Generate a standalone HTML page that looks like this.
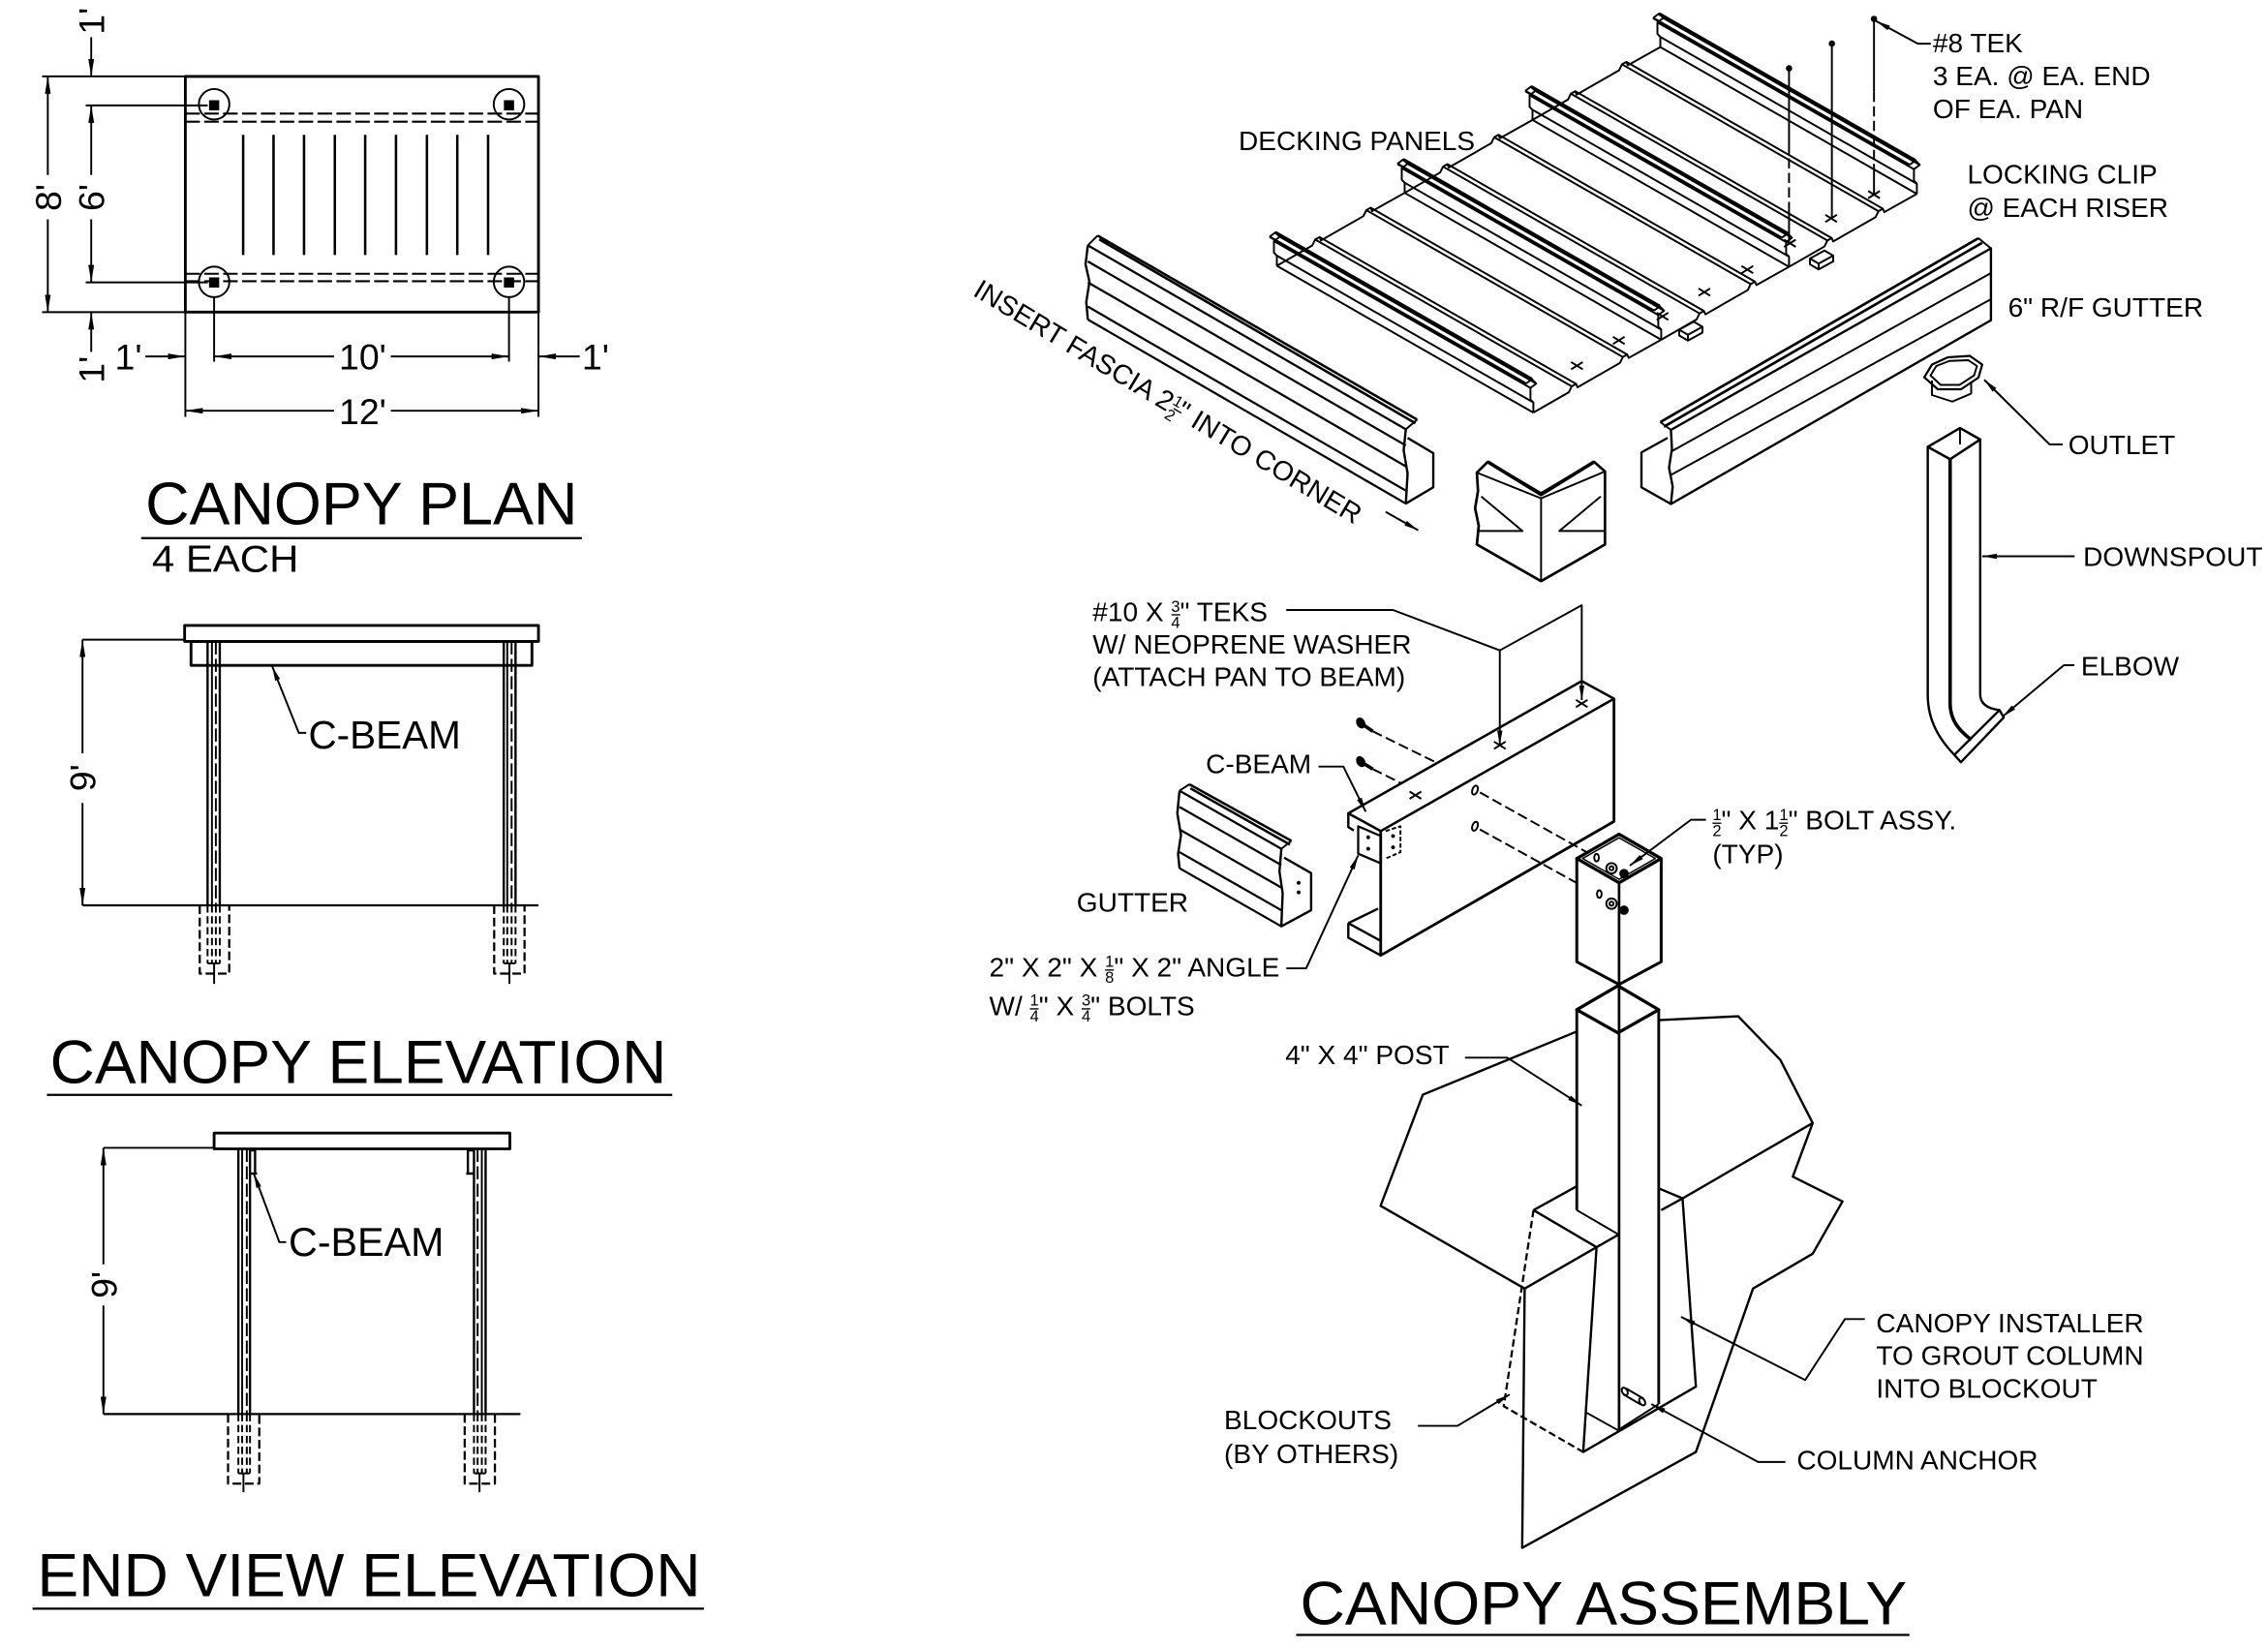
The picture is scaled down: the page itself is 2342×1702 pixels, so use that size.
<!DOCTYPE html>
<html><head><meta charset="utf-8"><style>
html,body{margin:0;padding:0;background:#fff;}
svg{display:block;}
text{font-family:"Liberation Sans",Arial,sans-serif;fill:#000;stroke:none;}
</style></head><body>
<svg width="2342" height="1702" viewBox="0 0 1561.333 1134.667" xmlns="http://www.w3.org/2000/svg">
<defs>
<marker id="d" viewBox="0 0 12 4" refX="12" refY="2" markerWidth="12" markerHeight="4" markerUnits="userSpaceOnUse" orient="auto-start-reverse"><path d="M0,0L12,2L0,4z" fill="#000"/></marker>
<marker id="l" viewBox="0 0 10 3.6" refX="10" refY="1.8" markerWidth="10" markerHeight="3.6" markerUnits="userSpaceOnUse" orient="auto-start-reverse"><path d="M0,0L10,1.8L0,3.6z" fill="#000"/></marker>
<g id="riser">
 <polyline points="-1,3 3,0 6,3 2,6 2,14 4,16 4,23"/>
 <polyline points="175.6,104.1 179.6,101.1 182.6,104.1 178.6,107.1 178.6,115.1 180.6,117.1 180.6,124.1"/>
 <line x1="3" y1="0" x2="179.6" y2="101.1" stroke-width="2.2"/>
 <line x1="-1" y1="3" x2="175.6" y2="104.1" stroke-width="1.6"/>
 <line x1="6" y1="3" x2="182.6" y2="104.1"/>
 <line x1="2" y1="6" x2="178.6" y2="107.1"/>
 <line x1="4" y1="16" x2="180.6" y2="117.1"/>
 <line x1="4" y1="23" x2="180.6" y2="124.1"/>
</g>
<g id="pan">
 <polyline points="4,23 28.4,9 30.4,4.9 33.4,3.2 34.4,5.55 63.6,-11.2 65.6,-15.3 68.6,-17 69.6,-14.65 92,-27.2"/>
 <polyline points="180.6,124.1 205,110.1 207,106 210,104.3 211,106.65 240.2,89.9 242.2,85.8 245.2,84.1 246.2,86.45 268.6,73.9"/>
 <line x1="30.4" y1="4.9" x2="207" y2="106"/>
 <line x1="33.4" y1="3.2" x2="210" y2="104.3"/>
 <line x1="65.6" y1="-15.3" x2="242.2" y2="85.8"/>
 <line x1="68.6" y1="-17" x2="245.2" y2="84.1"/>
</g>
</defs>

<g fill="none" stroke="#000" stroke-width="1.3" stroke-linejoin="round">

<!-- ============ CANOPY PLAN ============ -->
<rect x="127.6" y="52.6" width="243.1" height="162.3" stroke-width="1.9"/>
<circle cx="147.4" cy="71.8" r="10.5"/>
<circle cx="350.4" cy="71.8" r="10.5"/>
<circle cx="147.4" cy="194.1" r="10.5"/>
<circle cx="350.4" cy="194.1" r="10.5"/>
<g fill="#000" stroke="none">
<rect x="143.9" y="69" width="7" height="7"/><rect x="346.9" y="69" width="7" height="7"/>
<rect x="143.9" y="191" width="7" height="7"/><rect x="346.9" y="191" width="7" height="7"/>
</g>
<path d="M127.6 78.2H370.7M127.6 83.8H370.7M127.6 188.5H370.7M127.6 193.6H370.7" stroke-dasharray="10 3" stroke-width="1.4"/>
<path d="M167.4 92.8V175.6M188.3 92.8V175.6M209.3 92.8V175.6M230.5 92.8V175.6M251.4 92.8V175.6M272.6 92.8V175.6M293.9 92.8V175.6M314.8 92.8V175.6M336 92.8V175.6" stroke-width="1.7"/>
<!-- vertical dims -->
<path d="M29 52.6H127.6M29 214.9H127.6M59 72.6H143M59 194.4H143"/>
<path d="M32.9 52.6V120.5" marker-start="url(#d)"/>
<path d="M32.9 151V214.9" marker-end="url(#d)"/>
<path d="M62.8 72.6V120.5" marker-start="url(#d)"/>
<path d="M62.8 151V194.4" marker-end="url(#d)"/>
<path d="M62.8 25.6V52.6" marker-end="url(#d)"/>
<path d="M62.8 242.3V214.9" marker-end="url(#d)"/>
<!-- horizontal dims -->
<path d="M147.4 205V249M350.4 205V249M127.6 214.9V287M370.7 214.9V287"/>
<path d="M147.4 245.4H230" marker-start="url(#d)"/>
<path d="M269 245.4H350.4" marker-end="url(#d)"/>
<path d="M100.1 245.4H127.6" marker-end="url(#d)"/>
<path d="M399.1 245.4H370.7" marker-end="url(#d)"/>
<path d="M127.6 282.8H230" marker-start="url(#d)"/>
<path d="M269 282.8H370.7" marker-end="url(#d)"/>
<path d="M97.2 370.5H400.6" stroke-width="1.5"/>

<!-- ============ CANOPY ELEVATION ============ -->
<rect x="127.1" y="430.6" width="243.6" height="11" stroke-width="1.9"/>
<rect x="131.5" y="441.6" width="234.7" height="16.5" stroke-width="1.9"/>
<path d="M142.9 441.6V623.3M151.3 441.6V623.3M346.8 441.6V623.3M354.9 441.6V623.3" stroke-width="1.6"/>
<path d="M145.9 441.6V623.3M349.2 441.6V623.3"/>
<path d="M148.6 441.6V623.3M352.2 441.6V623.3" stroke-dasharray="9 3"/>
<path d="M142.9 623.3V663.3M145.9 623.3V663.3M148.6 623.3V663.3M151.3 623.3V663.3M346.8 623.3V663.3M349.2 623.3V663.3M352.2 623.3V663.3M354.9 623.3V663.3" stroke-dasharray="5 2.5"/>
<path d="M142.9 663.3H151.3M346.8 663.3H354.9"/>
<path d="M137.5 623.3V670.3H157.8V623.3M340.2 623.3V670.3H361.1V623.3" stroke-dasharray="6 2.5" stroke-width="1.5"/>
<path d="M147.4 663V677.4M350.7 663V677.4"/>
<path d="M56.8 623.3H370.7" stroke-width="1.5"/>
<path d="M56.8 440.4H127.1"/>
<path d="M56.8 440.4V518.7" marker-start="url(#d)"/>
<path d="M56.8 552.8V623.3" marker-end="url(#d)"/>
<path d="M210.8 504.6H205.7L187.4 458.8" marker-end="url(#l)"/>
<path d="M32.3 753.8H462.8" stroke-width="1.5"/>

<!-- ============ END VIEW ELEVATION ============ -->
<rect x="147.4" y="780.1" width="203.6" height="10.9" stroke-width="1.9"/>
<path d="M164.1 791V973.6M172.1 791V973.6M326.3 791V973.6M334.3 791V973.6" stroke-width="1.6"/>
<path d="M166.7 791V973.6M331.7 791V973.6"/>
<path d="M169.9 791V973.6M328.8 791V973.6" stroke-dasharray="9 3"/>
<path d="M164.1 973.6V1014.4M166.7 973.6V1014.4M169.9 973.6V1014.4M172.1 973.6V1014.4M326.3 973.6V1014.4M328.8 973.6V1014.4M331.7 973.6V1014.4M334.3 973.6V1014.4" stroke-dasharray="5 2.5"/>
<path d="M164.1 1014.4H172.1M326.3 1014.4H334.3"/>
<path d="M157 973.6V1021.5H178.5V973.6M319.9 973.6V1021.5H340.7V973.6" stroke-dasharray="6 2.5" stroke-width="1.5"/>
<path d="M167.6 1014V1027.4M330.1 1014V1027.4"/>
<path d="M172.1 792H176M175.6 791.5V808M172.1 808H177M326.3 792H322.4M322.1 791.5V808M326.3 808H321" stroke-width="1.6"/>
<path d="M71.2 973.6H358.3" stroke-width="1.5"/>
<path d="M71.2 790.3H147.4"/>
<path d="M71.2 790.3V870.5" marker-start="url(#d)"/>
<path d="M71.2 898.8V973.6" marker-end="url(#d)"/>
<path d="M197 855.2H192.3L174.7 808" marker-end="url(#l)"/>
<path d="M22.4 1107.6H484.6" stroke-width="1.5"/>

<!-- ============ DECKING ============ -->
<use href="#riser" x="875" y="160"/>
<use href="#riser" x="963" y="109.8"/>
<use href="#riser" x="1051" y="59.6"/>
<use href="#riser" x="1139" y="9.4"/>
<use href="#pan" x="875" y="160"/>
<use href="#pan" x="963" y="109.8"/>
<use href="#pan" x="1051" y="59.6"/>
<path d="M1081.6 249.3l8 5M1081.6 254.3l8 -5M1110.4 231.9l8 5M1110.4 236.9l8 -5M1140.5 215.3l8 5M1140.5 220.3l8 -5M1169.3 198.6l8 5M1169.3 203.6l8 -5M1198.9 183.1l8 5M1198.9 188.1l8 -5M1228.2 165l8 5M1228.2 170l8 -5M1256.6 147.9l8 5M1256.6 152.9l8 -5M1286.1 131.5l8 5M1286.1 136.5l8 -5"/>
<!-- locking clips -->
<path d="M1156 227l10 -5.5l6 3.5l-10 5.5zM1156 227v4l6 3.5l10 -5.5v-4M1162 230.5v4"/>
<path d="M1246 178l10 -5.5l6 3.5l-10 5.5zM1246 178v4l6 3.5l10 -5.5v-4M1252 181.5v4"/>
<!-- TEK screws -->
<path d="M1231.6 47.9V99M1231.6 143.6V167.5M1261.1 30.8V150M1290.1 13.7V63.2M1290.1 112.8V133.3"/>
<path d="M1231.6 99V143.6M1290.1 63.2V112.8" stroke-dasharray="7 3"/>
<g fill="#000" stroke="none"><circle cx="1231.6" cy="47" r="2.2"/><circle cx="1261.1" cy="30" r="2.2"/><circle cx="1290.1" cy="13" r="2.2"/></g>
<path d="M1329.2 30.1H1320.3L1291.5 14.5" marker-end="url(#l)"/>

<!-- ============ LEFT FASCIA GUTTER ============ -->
<path d="M755.6 162.2L975.6 288.9M756.7 164.8L974.4 291.4" stroke-width="1.7"/>
<path d="M748.9 168.9L755.6 162.2M967.8 295.6L975.6 288.9"/>
<path d="M748.9 168.9L967.8 295.6M748.9 180L967.8 306.7M748.9 194.4L967.8 321.1M748.9 211.1L967.8 337.8M748.9 220L967.8 346.7" stroke-width="1.5"/>
<path d="M748.9 168.9L747.3 182L750 194L747.8 208L748.9 220" stroke-width="1.6"/>
<path d="M967.8 295.6L966.3 310L969 326L967.8 346.7L986.7 335.5L986.7 312L969 301.5" stroke-width="1.6"/>

<!-- ============ CORNER PIECE ============ -->
<path d="M1016.7 325.4L1024.2 318L1060.9 339.7L1097.4 318L1104.9 324.6L1104.9 374.9L1060.9 400.1L1016.7 374.9L1018 362L1015.5 350L1017.5 338Z" stroke-width="1.8"/>
<path d="M1016.7 325.4L1060.9 343.1L1104.9 324.6M1060.9 343.1V400.1"/>
<path d="M1024.2 318L1060.9 340.5L1097.4 318" stroke-width="2.4"/>
<path d="M1019.7 341.8L1048.1 365.6H1016.7M1102 341.8L1073.5 365.6H1104.9"/>
<path d="M953.9 352.4L976.3 365.1" marker-end="url(#l)"/>

<!-- ============ RIGHT GUTTER ============ -->
<path d="M1143 290.6L1362 164M1145.5 293.8L1364.5 167.2" stroke-width="1.8"/>
<path d="M1143 290.6L1150.3 296M1362 164L1370.6 171"/>
<path d="M1150.3 296L1370.6 171L1370.6 220.5L1150.3 347L1151.5 335L1149 322L1151 309Z" stroke-width="1.6"/>
<path d="M1150.3 311L1370.6 188M1150.3 327L1370.6 206"/>
<path d="M1150.3 347L1130 335.5L1130 311.5L1148 301.5" stroke-width="1.6"/>

<!-- outlet -->
<path d="M1324.7 259.8L1330 251L1341 246L1356 245L1364.6 251L1362 260L1350 268L1334 268Z" stroke-width="1.5"/>
<path d="M1329 258.5L1333 252L1342 248.5L1355 248L1361 252L1359 258.5L1349 265L1336 265Z"/>
<path d="M1330 262V272L1344 276.5L1357 271V263"/>
<path d="M1420 306H1411L1366 261.5" marker-end="url(#l)"/>

<!-- downspout -->
<path d="M1327.1 307.7L1349.3 294.7L1363.2 302.6L1342.5 316.2Z" stroke-width="1.7"/>
<path d="M1349.3 294.7V306"/>
<path d="M1327.1 307.7V478.6C1327.1 497 1336 510 1345.4 519.7" stroke-width="1.6"/>
<path d="M1342.5 316.2V484C1342.5 497 1350 504 1357.2 509.4" stroke-width="2.4"/>
<path d="M1363.2 302.6V478C1363.2 485 1369 488 1376.5 488.9" stroke-width="1.6"/>
<path d="M1345.4 519.7L1349.9 524.8L1379.4 494L1376.5 488.9Z" stroke-width="1.6"/>
<path d="M1428.2 383H1364.6" marker-end="url(#l)"/>
<path d="M1428 458H1420.8L1378.5 493.5" marker-end="url(#l)"/>

<!-- ============ SMALL GUTTER ============ -->
<path d="M818.8 540L889 578.9M819.5 542.8L888 581.5" stroke-width="1.7"/>
<path d="M812 544.4L818.8 540M882.1 584.4L889 578.9"/>
<path d="M812 544.4L882.1 584.4M812 555.6L882.1 595.6M812 571.1L882.1 611.1M812 586.7L882.1 626.7M812 597.8L882.1 637.8" stroke-width="1.5"/>
<path d="M812 544.4L810.5 560L813 575L811 588L812 597.8" stroke-width="1.6"/>
<path d="M882.1 584.4L880.8 600L883 615L882.1 637.8L902.6 626.7L902.6 601.1L884 590.5" stroke-width="1.6"/>
<g fill="#000" stroke="none"><circle cx="894" cy="607.8" r="1.3"/><circle cx="894" cy="614.4" r="1.3"/></g>

<!-- ============ C-BEAM ============ -->
<path d="M928.2 560L1088.9 468.9L1111.1 481.1L950.5 572.2Z" stroke-width="1.7"/>
<path d="M950.5 572.2V657.8L1111.1 565.6V481.1" stroke-width="1.9"/>
<path d="M928.2 560V569.5L932 571.8" stroke-width="1.6"/>
<path d="M928.2 635.6L948.7 625.6M928.2 635.6V645.6L950.5 657.8M928.2 635.6L950.5 647.8" stroke-width="1.6"/>
<!-- angle -->
<path d="M935 568.9L950.5 575.6V594.4L935 587.8Z" stroke-width="1.5"/>
<path d="M953.9 572.2L964.1 568.9V586.7L953.9 591.1" stroke-dasharray="3 1.5"/>
<g fill="#000" stroke="none"><circle cx="941.9" cy="576.5" r="1.3"/><circle cx="941.9" cy="584.4" r="1.3"/><circle cx="959" cy="575.6" r="1.3"/><circle cx="959" cy="583.4" r="1.3"/></g>
<path d="M1084.9 481.9l8 5M1084.9 486.9l8 -5M1028.5 510.6l8 5M1028.5 515.6l8 -5M970.4 545l8 5M970.4 550l8 -5"/>
<!-- screws -->
<g fill="#000" stroke="none">
<ellipse cx="936.8" cy="497.8" rx="3" ry="4" transform="rotate(-30 936.8 497.8)"/>
<ellipse cx="936.8" cy="524.4" rx="3" ry="4" transform="rotate(-30 936.8 524.4)"/>
</g>
<path d="M937 498L945 503.5M937 524.6L945 529.5" stroke-width="2.4"/>
<path d="M945 503.5L989.8 525.5M945 529.5L964.1 539" stroke-dasharray="7 3"/>
<ellipse cx="1015.4" cy="544" rx="1.8" ry="3.2" transform="rotate(20 1015.4 544)"/>
<ellipse cx="1015.4" cy="568.9" rx="1.8" ry="3.2" transform="rotate(20 1015.4 568.9)"/>
<path d="M1018.8 545.6L1092.3 586.7M1018.8 571.1L1087.2 608.9" stroke-dasharray="7 3"/>
<path d="M885.5 420H959L1032.5 447.8V513" marker-end="url(#l)"/>
<path d="M1032.5 447.8L1088.9 416.7V482" marker-end="url(#l)"/>
<path d="M907.7 527.8H924.8L940.2 558.9" marker-end="url(#l)"/>
<path d="M885.5 666.7H899.2L935 588.9" marker-end="url(#l)"/>

<!-- ============ BRACKET / POST ============ -->
<path d="M1085.5 591.1L1114.6 574.4L1143.6 591.1L1114.6 607.8Z" stroke-width="2.2"/>
<path d="M1089.5 591.1L1114.6 576.8L1139.6 591.1L1114.6 605.4Z" stroke-width="1"/>
<path d="M1085.5 591.1V662.2L1114.6 677.8L1143.6 662.2V591.1" stroke-width="2"/>
<path d="M1114.6 607.8V984.7" stroke-width="1.8"/>
<ellipse cx="1099.1" cy="590.5" rx="1.6" ry="2.6"/>
<circle cx="1109.4" cy="597.8" r="3.6"/><circle cx="1109.4" cy="597.8" r="1.4"/>
<circle cx="1118" cy="601.5" r="2.6" fill="#000"/>
<ellipse cx="1101" cy="615.6" rx="1.6" ry="2.6"/>
<circle cx="1109.4" cy="622.2" r="3.6"/><circle cx="1109.4" cy="622.2" r="1.4"/>
<circle cx="1118" cy="626.7" r="2.6" fill="#000"/>
<path d="M1174.4 564.4H1164.1L1122 596" marker-end="url(#l)"/>
<path d="M1085.5 695.2L1113.8 678.7L1141.9 695.2L1113.8 711.1Z" stroke-width="2.2"/>
<path d="M1085.5 695.2V833.2M1141.9 695.2V966.7" stroke-width="1.9"/>
<path d="M1085.5 833.2L1113.8 849.7"/>
<path d="M1092.3 972.7L1113.8 984.7L1141.9 966.7"/>
<!-- slab -->
<path d="M1085.5 710.2L979.5 753.7L950.4 830.2L1049.6 887.2L1099.1 858.7L1113.8 850.3" stroke-width="1.6"/>
<path d="M1141.9 702.4L1196.6 699.7L1225.6 729.7L1247.9 773.2L1234.2 810.1L1268.4 827.2L1247.9 863.2L1206.8 887.2L1167.5 999.7L1047.9 1065.7L1049.6 887.2" stroke-width="1.6"/>
<path d="M1143.6 833.2L1158.3 825.1L1247.9 773.2" stroke-width="1.6"/>
<!-- blockout -->
<path d="M1055.7 833.2L1085.5 816.7M1141.9 818.2L1158.3 825.1M1055.7 833.2L1099.1 858.7" stroke-width="1.6"/>
<path d="M1055.7 833.2L1035.2 968.2L1089.9 999.7" stroke-dasharray="5 2.5" stroke-width="1.5"/>
<path d="M1099.1 858.7L1089.9 999.7L1167.5 954.7L1158.3 825.1" stroke-width="1.6"/>
<!-- column anchor -->
<path d="M1119.5 956L1131.5 963M1117.5 960L1129.5 967"/>
<ellipse cx="1118.5" cy="958" rx="1.8" ry="2.8" transform="rotate(-30 1118.5 958)"/>
<ellipse cx="1130.5" cy="965" rx="1.8" ry="2.8" transform="rotate(-30 1130.5 965)"/>
<!-- leaders -->
<path d="M1008.5 728.2H1037.6L1088.9 761.2" marker-end="url(#l)"/>
<path d="M1283.8 908.2H1270.1L1242.7 950.2L1157.3 906.7" marker-end="url(#l)"/>
<path d="M976.1 981.7H1003.4L1039.3 960.1" marker-end="url(#l)"/>
<path d="M1229.1 1006.6H1210.3L1136.8 966.7" marker-end="url(#l)"/>
<path d="M892.3 1125.7H1314.5" stroke-width="1.5"/>

<!-- fraction bars -->
<path d="M806.5 423.3H812.5M760.8 667.9H766.8M709 694.6H715M744.6 694.6H750.6M1178.9 566.8H1184.9M1224.9 566.8H1230.9" stroke-width="0.9"/>
</g>

<!-- ============ TEXT ============ -->
<g font-size="25">
<text transform="translate(41.9 136) rotate(-90)" text-anchor="middle">8'</text>
<text transform="translate(71.8 136) rotate(-90)" text-anchor="middle">6'</text>
<text transform="translate(71.8 14.5) rotate(-90)" text-anchor="middle">1'</text>
<text transform="translate(71.8 254.5) rotate(-90)" text-anchor="middle">1'</text>
<text x="249.6" y="254.5" text-anchor="middle">10'</text>
<text x="79" y="254.5">1'</text>
<text x="400.6" y="254.5">1'</text>
<text x="249.6" y="292" text-anchor="middle">12'</text>
<text transform="translate(65.8 535.5) rotate(-90)" text-anchor="middle">9'</text>
<text transform="translate(80.2 884.6) rotate(-90)" text-anchor="middle">9'</text>
</g>
<text x="100.1" y="361" font-size="41.5" textLength="297.5" lengthAdjust="spacingAndGlyphs">CANOPY PLAN</text>
<text x="104.6" y="393.6" font-size="26" textLength="101" lengthAdjust="spacingAndGlyphs">4 EACH</text>
<text x="212.3" y="515.2" font-size="27">C-BEAM</text>
<text x="34.4" y="745.6" font-size="42" textLength="424.5" lengthAdjust="spacingAndGlyphs">CANOPY ELEVATION</text>
<text x="198.7" y="864.6" font-size="27.5">C-BEAM</text>
<text x="25.6" y="1098.9" font-size="42" textLength="456.8" lengthAdjust="spacingAndGlyphs">END VIEW ELEVATION</text>
<text x="895" y="1118.2" font-size="42" textLength="417.8" lengthAdjust="spacingAndGlyphs">CANOPY ASSEMBLY</text>

<g font-size="18.7">
<text x="852.7" y="103.3">DECKING PANELS</text>
<text x="1330.6" y="35.9">#8 TEK</text>
<text x="1330.6" y="58.8">3 EA. @ EA. END</text>
<text x="1330.6" y="81.4">OF EA. PAN</text>
<text x="1354.3" y="126.5">LOCKING CLIP</text>
<text x="1354.3" y="149.4">@ EACH RISER</text>
<text x="1382.4" y="218.1">6" R/F GUTTER</text>
<text x="1423.8" y="312.8">OUTLET</text>
<text x="1434.1" y="389.7">DOWNSPOUT</text>
<text x="1432.6" y="465">ELBOW</text>
<text x="752.2" y="427.8">#10 X <tspan font-size="11" dy="-6.5">3</tspan><tspan font-size="11" dx="-6.1" dy="11">4</tspan><tspan dy="-4.5">" TEKS</tspan></text>
<text x="752.2" y="450">W/ NEOPRENE WASHER</text>
<text x="752.2" y="472.2">(ATTACH PAN TO BEAM)</text>
<text x="830.1" y="532.2">C-BEAM</text>
<text x="741.2" y="627.8">GUTTER</text>
<text x="681" y="672.2">2" X 2" X <tspan font-size="11" dy="-6.5">1</tspan><tspan font-size="11" dx="-6.1" dy="11">8</tspan><tspan dy="-4.5">" X 2" ANGLE</tspan></text>
<text x="681" y="698.9">W/ <tspan font-size="11" dy="-6.5">1</tspan><tspan font-size="11" dx="-6.1" dy="11">4</tspan><tspan dy="-4.5">" X </tspan><tspan font-size="11" dy="-6.5">3</tspan><tspan font-size="11" dx="-6.1" dy="11">4</tspan><tspan dy="-4.5">" BOLTS</tspan></text>
<text x="1178.9" y="571.1"><tspan font-size="11" dy="-6.5">1</tspan><tspan font-size="11" dx="-6.1" dy="11">2</tspan><tspan dy="-4.5">" X 1</tspan><tspan font-size="11" dy="-6.5">1</tspan><tspan font-size="11" dx="-6.1" dy="11">2</tspan><tspan dy="-4.5">" BOLT ASSY.</tspan></text>
<text x="1178.9" y="594.4">(TYP)</text>
<text x="884.8" y="732.7">4" X 4" POST</text>
<text x="1291.6" y="917.2">CANOPY INSTALLER</text>
<text x="1291.6" y="939.7">TO GROUT COLUMN</text>
<text x="1291.6" y="962.2">INTO BLOCKOUT</text>
<text x="842.7" y="984.1">BLOCKOUTS</text>
<text x="842.7" y="1007.2">(BY OTHERS)</text>
<text x="1236.9" y="1011.7">COLUMN ANCHOR</text>
</g>
<g transform="rotate(31 669 203)">
<text x="669" y="203" font-size="19">INSERT FASCIA 2<tspan font-size="11" dy="-6.5">1</tspan><tspan font-size="11" dx="-6.1" dy="11">2</tspan><tspan dy="-4.5">" INTO CORNER</tspan></text>
<path d="M828.4 198.5H834.5" stroke="#000" stroke-width="0.9"/>
</g>
</svg>
</body></html>
